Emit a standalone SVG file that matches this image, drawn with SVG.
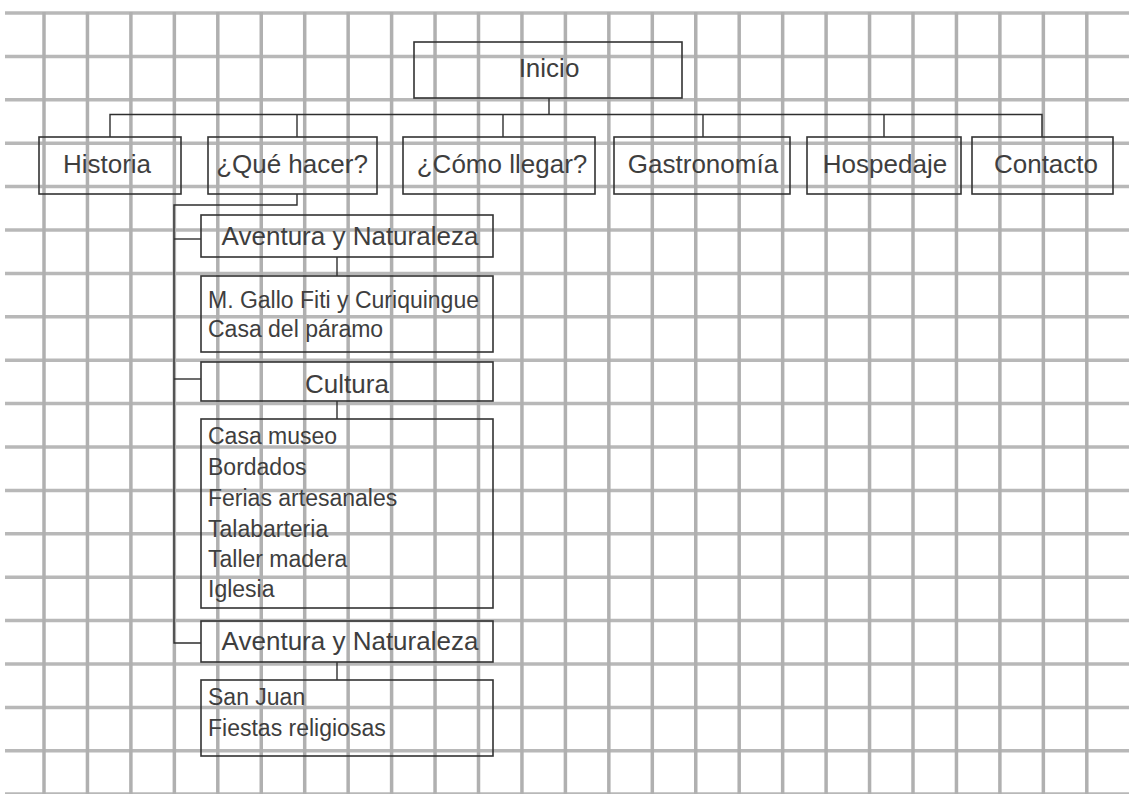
<svg xmlns="http://www.w3.org/2000/svg" width="1129" height="794" viewBox="0 0 1129 794">
<defs>
<style>
.gv{stroke:#b0b0b0;stroke-width:3.5;fill:none}
.gh{stroke:#b8b8b8;stroke-width:3.5;fill:none}
.box{fill:none;stroke:#333;stroke-width:1.6}
.con{fill:none;stroke:#2e2e2e;stroke-width:1.4}
.h{font-family:"Liberation Sans",Arial,sans-serif;font-size:26px;fill:#3e3e3e;text-anchor:middle}
.l{font-family:"Liberation Sans",Arial,sans-serif;font-size:23px;fill:#3e3e3e}
</style>
</defs>
<rect x="0" y="0" width="1129" height="794" fill="#fff"/>
<g id="grid">
<g class="gh">
<line x1="5" y1="13" x2="1129" y2="13"/>
<line x1="5" y1="56.4" x2="1129" y2="56.4"/>
<line x1="5" y1="99.8" x2="1129" y2="99.8"/>
<line x1="5" y1="143.2" x2="1129" y2="143.2"/>
<line x1="5" y1="186.6" x2="1129" y2="186.6"/>
<line x1="5" y1="230" x2="1129" y2="230"/>
<line x1="5" y1="273.4" x2="1129" y2="273.4"/>
<line x1="5" y1="316.8" x2="1129" y2="316.8"/>
<line x1="5" y1="360.2" x2="1129" y2="360.2"/>
<line x1="5" y1="403.6" x2="1129" y2="403.6"/>
<line x1="5" y1="447" x2="1129" y2="447"/>
<line x1="5" y1="490.4" x2="1129" y2="490.4"/>
<line x1="5" y1="533.8" x2="1129" y2="533.8"/>
<line x1="5" y1="577.2" x2="1129" y2="577.2"/>
<line x1="5" y1="620.6" x2="1129" y2="620.6"/>
<line x1="5" y1="664" x2="1129" y2="664"/>
<line x1="5" y1="707.4" x2="1129" y2="707.4"/>
<line x1="5" y1="750.8" x2="1129" y2="750.8"/>
<line x1="5" y1="794" x2="1129" y2="794"/>
</g>
<g class="gv">
<line x1="44" y1="12" x2="44" y2="794"/>
<line x1="87.45" y1="12" x2="87.45" y2="794"/>
<line x1="130.9" y1="12" x2="130.9" y2="794"/>
<line x1="174.35" y1="12" x2="174.35" y2="794"/>
<line x1="217.8" y1="12" x2="217.8" y2="794"/>
<line x1="261.25" y1="12" x2="261.25" y2="794"/>
<line x1="304.7" y1="12" x2="304.7" y2="794"/>
<line x1="348.15" y1="12" x2="348.15" y2="794"/>
<line x1="391.6" y1="12" x2="391.6" y2="794"/>
<line x1="435.05" y1="12" x2="435.05" y2="794"/>
<line x1="478.5" y1="12" x2="478.5" y2="794"/>
<line x1="521.95" y1="12" x2="521.95" y2="794"/>
<line x1="565.4" y1="12" x2="565.4" y2="794"/>
<line x1="608.85" y1="12" x2="608.85" y2="794"/>
<line x1="652.3" y1="12" x2="652.3" y2="794"/>
<line x1="695.75" y1="12" x2="695.75" y2="794"/>
<line x1="739.2" y1="12" x2="739.2" y2="794"/>
<line x1="782.65" y1="12" x2="782.65" y2="794"/>
<line x1="826.1" y1="12" x2="826.1" y2="794"/>
<line x1="869.55" y1="12" x2="869.55" y2="794"/>
<line x1="913" y1="12" x2="913" y2="794"/>
<line x1="956.45" y1="12" x2="956.45" y2="794"/>
<line x1="999.9" y1="12" x2="999.9" y2="794"/>
<line x1="1043.35" y1="12" x2="1043.35" y2="794"/>
<line x1="1086.8" y1="12" x2="1086.8" y2="794"/>
</g>
</g>
<g id="connectors" class="con">
<path d="M549 98V114.5"/>
<path d="M110 137V114.5H1042V137"/>
<path d="M297 114.5V137"/>
<path d="M503 114.5V137"/>
<path d="M703 114.5V137"/>
<path d="M884 114.5V137"/>
<path d="M297 194V205H174V643H201"/>
<path d="M174 239H201"/>
<path d="M174 379H201"/>
<path d="M337 257V276"/>
<path d="M337 401V419"/>
<path d="M337 662V680"/>
</g>
<g id="inicio"><rect class="box" x="414" y="42" width="268" height="56"/><text class="h" x="549" y="77">Inicio</text></g>
<g id="historia"><rect class="box" x="39" y="137" width="142" height="57"/><text class="h" x="107" y="173">Historia</text></g>
<g id="que-hacer"><rect class="box" x="208" y="137" width="169" height="57"/><text class="h" x="292" y="173">¿Qué hacer?</text></g>
<g id="como-llegar"><rect class="box" x="403" y="137" width="192" height="57"/><text class="h" x="502" y="173">¿Cómo llegar?</text></g>
<g id="gastronomia"><rect class="box" x="614" y="137" width="176" height="57"/><text class="h" x="703" y="173">Gastronomía</text></g>
<g id="hospedaje"><rect class="box" x="807" y="137" width="154" height="57"/><text class="h" x="885" y="173">Hospedaje</text></g>
<g id="contacto"><rect class="box" x="972" y="137" width="141" height="57"/><text class="h" x="1046" y="173">Contacto</text></g>
<g id="aventura1"><rect class="box" x="201" y="215" width="292" height="42"/><text class="h" x="350" y="245">Aventura y Naturaleza</text></g>
<g id="aventura1-items"><rect class="box" x="201" y="276" width="292" height="76"/><text class="l" x="208" y="308">M. Gallo Fiti y Curiquingue</text><text class="l" x="208" y="337">Casa del páramo</text></g>
<g id="cultura"><rect class="box" x="201" y="362" width="292" height="39"/><text class="h" x="347" y="393">Cultura</text></g>
<g id="cultura-items"><rect class="box" x="201" y="419" width="292" height="189"/>
<text class="l" x="208" y="444">Casa museo</text>
<text class="l" x="208" y="474.5">Bordados</text>
<text class="l" x="208" y="505.5">Ferias artesanales</text>
<text class="l" x="208" y="536.5">Talabarteria</text>
<text class="l" x="208" y="566.5">Taller madera</text>
<text class="l" x="208" y="596.5">Iglesia</text>
</g>
<g id="aventura2"><rect class="box" x="201" y="621" width="292" height="41"/><text class="h" x="350" y="650">Aventura y Naturaleza</text></g>
<g id="aventura2-items"><rect class="box" x="201" y="680" width="292" height="76"/><text class="l" x="208" y="705">San Juan</text><text class="l" x="208" y="736">Fiestas religiosas</text></g>
</svg>
